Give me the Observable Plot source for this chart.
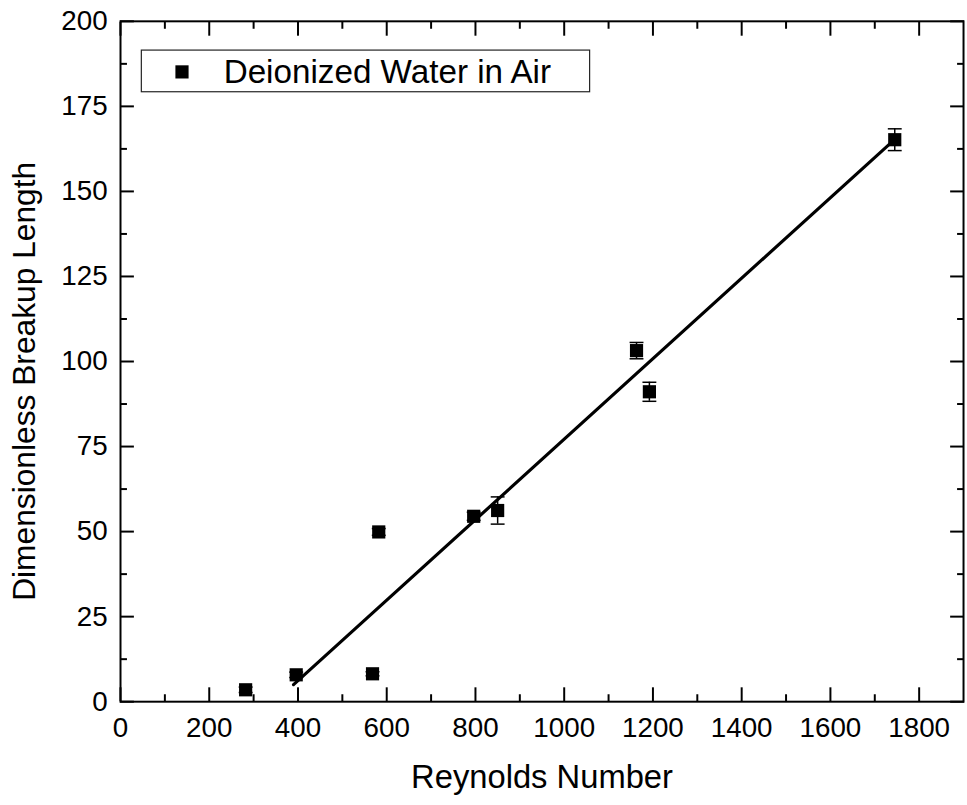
<!DOCTYPE html>
<html><head><meta charset="utf-8">
<script src="https://cdn.jsdelivr.net/npm/d3@7"></script>
<script src="https://cdn.jsdelivr.net/npm/@observablehq/plot@0.6"></script>
<style>
html,body{margin:0;padding:0;background:#fff;overflow:hidden;}
#chart{width:967px;height:805px;overflow:hidden;}
</style>
</head><body><div id="chart"></div>
<script>
// ---- data ----
const reynolds      = [282, 396, 568, 582, 796, 850, 1163, 1192, 1745];
const breakupLength = [3.5, 7.9, 8.2, 49.9, 54.5, 56.2, 103.2, 91.1, 165.2];
const breakupError  = [0.8, 0.8, 0.6, 1.0, 1.2, 4.0, 2.4, 2.8, 3.2];
const fitReynolds   = [390, 1745];
const fitLength     = [5.0, 165.3];
const xMajorTicks = [0, 200, 400, 600, 800, 1000, 1200, 1400, 1600, 1800];
const xMinorTicks = [100, 300, 500, 700, 900, 1100, 1300, 1500, 1700];
const yMajorTicks = [0, 25, 50, 75, 100, 125, 150, 175, 200];
const yMinorTicks = [12.5, 37.5, 62.5, 87.5, 112.5, 137.5, 162.5, 187.5];
const xTitle = "Reynolds Number";
const yTitle = "Dimensionless Breakup Length";
const seriesName = "Deionized Water in Air";

const points = reynolds.map((x, i) => ({x, y: breakupLength[i], e: breakupError[i]}));
const fit = fitReynolds.map((x, i) => ({x, y: fitLength[i]}));

const capSymbol = {
  draw(ctx, size) {
    const r = Math.sqrt(size / Math.PI);
    ctx.moveTo(-r, 0); ctx.lineTo(r, 0);
  }
};

const font = "Liberation Sans, Arial, Helvetica, sans-serif";

const chart = Plot.plot({
  width: 975, height: 805,
  marginLeft: 121, marginRight: 4, marginTop: 21, marginBottom: 98,
  style: {fontFamily: font, color: "black", background: "white", overflow: "visible"},
  x: {domain: [0, 1900], label: null},
  y: {domain: [0, 200], label: null},
  marks: [
    // bottom axis
    Plot.axisX(xMajorTicks, {anchor: "bottom", tickSize: -14, strokeWidth: 2, fill: "none", label: null}),
    Plot.axisX(xMinorTicks, {anchor: "bottom", tickSize: -7, strokeWidth: 2, fill: "none", label: null}),
    Plot.axisX(xMajorTicks, {anchor: "bottom", tickSize: 0, tickPadding: 16, fontSize: 28, label: null, tickFormat: d => String(d)}),
    // top axis (ticks only)
    Plot.axisX(xMajorTicks, {anchor: "top", tickSize: -14, strokeWidth: 2, fill: "none", label: null}),
    Plot.axisX(xMinorTicks, {anchor: "top", tickSize: -7, strokeWidth: 2, fill: "none", label: null}),
    // left axis
    Plot.axisY(yMajorTicks, {anchor: "left", tickSize: -14, strokeWidth: 2, fill: "none", label: null}),
    Plot.axisY(yMinorTicks, {anchor: "left", tickSize: -7, strokeWidth: 2, fill: "none", label: null}),
    Plot.axisY(yMajorTicks, {anchor: "left", tickSize: 0, tickPadding: 13, fontSize: 28, label: null, tickFormat: d => String(d)}),
    // right axis (ticks only)
    Plot.axisY(yMajorTicks, {anchor: "right", tickSize: -14, strokeWidth: 2, fill: "none", label: null}),
    Plot.axisY(yMinorTicks, {anchor: "right", tickSize: -7, strokeWidth: 2, fill: "none", label: null}),
    Plot.frame({stroke: "black", strokeWidth: 2}),
    // axis titles
    Plot.text([xTitle], {frameAnchor: "bottom", dy: 87, lineAnchor: "bottom", textAnchor: "middle", fontSize: 33, text: d => d}),
    Plot.text([yTitle], {frameAnchor: "left", rotate: -90, dx: -86, dy: 20, lineAnchor: "bottom", textAnchor: "middle", fontSize: 32, text: d => d}),
    // fit line
    Plot.line(fit, {x: "x", y: "y", stroke: "black", strokeWidth: 3.2}),
    // error bars
    Plot.ruleX(points, {x: "x", y1: d => d.y - d.e, y2: d => d.y + d.e, stroke: "black", strokeWidth: 1.5}),
    Plot.dot(points, {x: "x", y: d => d.y + d.e, symbol: capSymbol, r: 7, stroke: "black", strokeWidth: 1.5, fill: "none"}),
    Plot.dot(points, {x: "x", y: d => d.y - d.e, symbol: capSymbol, r: 7, stroke: "black", strokeWidth: 1.5, fill: "none"}),
    // markers
    Plot.dot(points, {x: "x", y: "y", symbol: "square", r: 7.5, fill: "black", stroke: "none"}),
    // legend
    Plot.frame({insetLeft: 21, insetTop: 29, insetRight: 377, insetBottom: 615, stroke: "#222", strokeWidth: 1.2, fill: "white"}),
    Plot.dot([seriesName], {frameAnchor: "top-left", dx: 62, dy: 51, symbol: "square", r: 7.5, fill: "black", stroke: "none"}),
    Plot.text([seriesName], {frameAnchor: "top-left", dx: 104, dy: 62.5, lineAnchor: "bottom", textAnchor: "start", fontSize: 33.5, text: d => d})
  ]
});
document.getElementById("chart").appendChild(chart);
</script>
</body></html>
